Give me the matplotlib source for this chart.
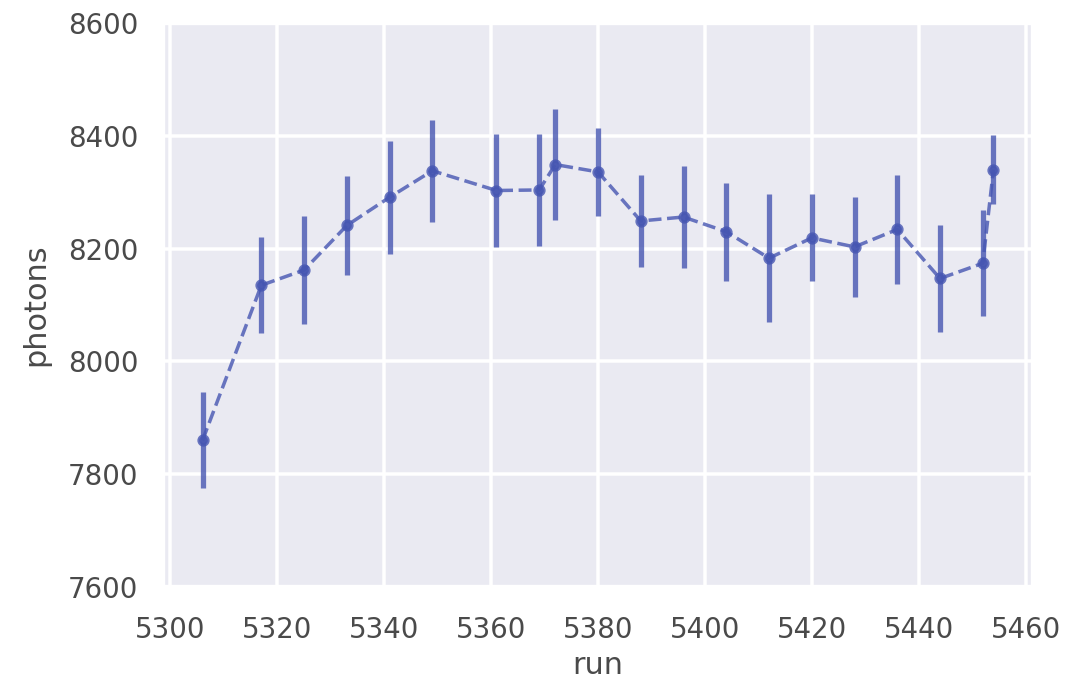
import numpy as np
import matplotlib
matplotlib.use('Agg')
import matplotlib.pyplot as plt
import seaborn as sns

sns.set_theme(style='darkgrid')

# photon yield per run, with spread
run = [5306, 5317, 5325, 5333, 5341, 5349, 5361, 5369, 5372, 5380,
       5388, 5396, 5404, 5412, 5420, 5428, 5436, 5444, 5452, 5454]
photons = [7860, 8135, 8162, 8241, 8291, 8338, 8303, 8304, 8349, 8336,
           8249, 8256, 8230, 8183, 8219, 8203, 8234, 8147, 8174, 8340]
photons_err = [85, 85, 95, 88, 100, 90, 100, 100, 98, 78,
               81, 90, 87, 114, 77, 88, 97, 94, 94, 61]

fig = plt.figure(figsize=(1089 / 252, 681 / 252), dpi=252)
ax = fig.add_axes([163 / 1089, 1 - 587 / 681, 870 / 1089, 564 / 681])

col = '#4656b2'
ax.errorbar(run, photons, yerr=photons_err, fmt='.--', color=col,
            lw=1.0, elinewidth=1.5, ecolor=col, markersize=5,
            alpha=0.8)

ax.set_ylim(7600, 8600)
ax.set_yticks(np.arange(7600, 8601, 200))
ax.set_xticks(np.arange(5300, 5461, 20))
ax.tick_params(labelsize=7.9, labelcolor='#4a4a4a')
ax.tick_params(axis='x', pad=2.4)
ax.tick_params(axis='y', pad=1)
ax.set_xlabel('run', fontsize=8.7, color='#4a4a4a', labelpad=2)
ax.set_ylabel('photons', fontsize=8.7, color='#4a4a4a', labelpad=5)

fig.savefig('out.png', dpi=252)
